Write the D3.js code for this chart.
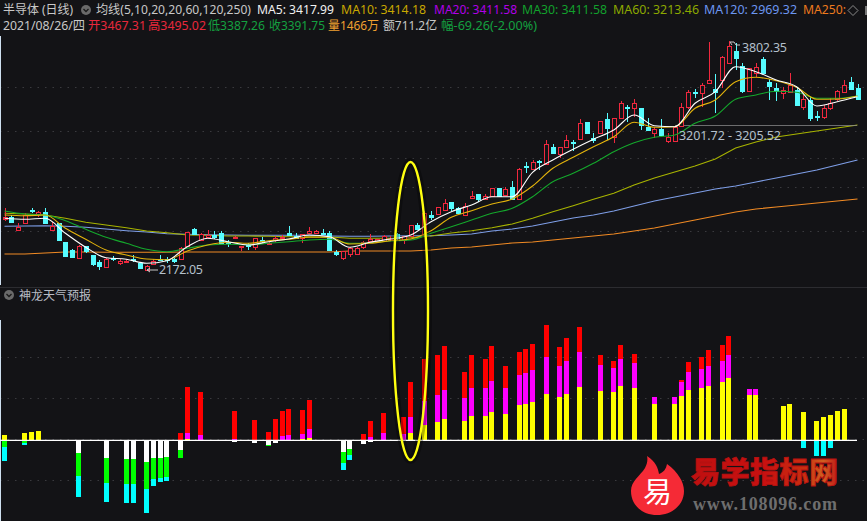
<!DOCTYPE html>
<html><head><meta charset="utf-8">
<script src="https://cdn.jsdelivr.net/npm/d3@7/dist/d3.min.js"></script>
<style>html,body{margin:0;padding:0;background:#131316;overflow:hidden}svg{display:block}
text{font-family:"Noto Sans","Noto Sans CJK SC",sans-serif}</style></head><body>
<svg id="c" width="867" height="521"></svg>
<script>
// Candles, index points
const opens=[2561,2579,2484,2533,2626,2598,2610,2484,2533,2404,2346,2290,2374,2311,2260,2229,2288,2253,2260,2283,2255,2204,2248,2285,2281,2283,2281,2376,2493,2416,2435,2451,2463,2404,2430,2367,2383,2365,2416,2386,2418,2428,2465,2446,2428,2463,2465,2465,2465,2334,2290,2320,2320,2369,2409,2411,2407,2421,2458,2416,2446,2521,2451,2591,2600,2626,2680,2640,2591,2712,2736,2701,2724,2778,2731,2787,2701,2932,2915,2969,2946,3067,3018,3069,3104,3121,3240,3128,3163,3263,3135,3272,3349,3338,3338,3205,3163,3191,3109,3111,3216,3345,3454,3443,3513,3473,3536,3657,3739,3636,3461,3583,3683,3522,3480,3443,3450,3466,3345,3396,3284,3279,3342,3401,3454,3524,3478];
const highs=[2638,2591,2533,2603,2640,2619,2638,2544,2533,2404,2355,2381,2374,2311,2276,2290,2302,2281,2281,2313,2264,2239,2281,2311,2299,2288,2365,2470,2502,2467,2486,2481,2481,2416,2442,2374,2397,2428,2435,2404,2442,2451,2514,2463,2456,2507,2484,2493,2477,2346,2339,2365,2369,2409,2458,2421,2451,2446,2463,2446,2519,2533,2621,2619,2645,2705,2680,2649,2677,2759,2736,2736,2778,2778,2785,2829,2922,2964,2976,2976,3116,3088,3065,3149,3116,3263,3240,3163,3247,3303,3268,3389,3361,3400,3338,3268,3209,3263,3163,3216,3373,3466,3471,3513,3802,3576,3706,3809,3793,3657,3618,3657,3699,3545,3513,3489,3587,3478,3431,3419,3321,3361,3412,3466,3536,3555,3508];
const lows=[2551,2544,2484,2533,2603,2579,2533,2484,2416,2299,2299,2281,2323,2236,2206,2225,2269,2243,2253,2262,2222,2197,2241,2269,2257,2257,2276,2374,2458,2416,2428,2425,2397,2369,2421,2339,2346,2346,2393,2381,2404,2416,2449,2421,2397,2463,2463,2451,2346,2304,2276,2299,2320,2351,2404,2404,2407,2416,2416,2388,2446,2491,2451,2556,2591,2621,2621,2598,2591,2705,2684,2696,2724,2717,2724,2696,2701,2887,2906,2906,2946,3016,2988,3065,3041,3121,3163,3093,3156,3116,3097,3272,3240,3279,3186,3181,3128,3149,3093,3104,3209,3331,3408,3345,3513,3307,3478,3657,3606,3443,3461,3559,3583,3396,3391,3401,3450,3361,3326,3251,3251,3261,3326,3387,3443,3471,3405];
const closes=[2575,2544,2505,2591,2621,2614,2533,2516,2416,2304,2299,2374,2341,2248,2234,2283,2283,2267,2271,2278,2222,2232,2271,2274,2274,2271,2358,2470,2458,2458,2451,2435,2397,2400,2437,2374,2379,2428,2407,2397,2432,2439,2449,2428,2456,2477,2479,2458,2346,2320,2339,2360,2360,2404,2421,2421,2446,2425,2432,2444,2519,2493,2603,2577,2645,2673,2638,2607,2654,2724,2703,2726,2778,2726,2771,2703,2913,2927,2962,2960,3086,3023,3065,3114,3093,3233,3163,3116,3247,3202,3268,3375,3338,3373,3221,3186,3193,3149,3139,3209,3345,3452,3443,3499,3536,3450,3695,3774,3692,3459,3618,3625,3583,3494,3457,3466,3501,3361,3403,3268,3279,3340,3373,3457,3501,3471,3405];
// Moving averages, sampled every third session
const maSessions=[0,3,6,9,12,15,18,21,24,27,30,33,36,39,42,45,48,51,54,57,60,63,66,69,72,75,78,81,84,87,90,93,96,99,102,105,108,111,114,117,120,123,126];
const ma250=[2318,2318,2325,2332,2332,2330,2330,2330,2330,2332,2332,2332,2332,2332,2332,2332,2332,2339,2339,2339,2339,2346,2360,2367,2381,2395,2402,2416,2430,2444,2458,2479,2500,2528,2556,2584,2612,2633,2647,2661,2675,2689,2703];
const ma120=[2512,2514,2516,2512,2505,2493,2481,2472,2460,2456,2453,2451,2449,2449,2449,2449,2444,2442,2442,2444,2446,2446,2451,2458,2479,2493,2514,2542,2570,2591,2619,2654,2689,2717,2745,2773,2794,2822,2850,2878,2906,2941,2976];
const ma60=[2603,2598,2591,2568,2540,2521,2502,2479,2467,2451,2449,2444,2444,2442,2439,2439,2437,2428,2428,2428,2432,2444,2465,2481,2502,2528,2568,2614,2656,2701,2743,2801,2850,2892,2934,2983,3060,3102,3137,3158,3179,3200,3221];
const ma30=[2619,2598,2591,2551,2491,2435,2393,2351,2334,2358,2381,2386,2383,2393,2404,2416,2421,2393,2397,2409,2416,2463,2509,2556,2603,2638,2719,2824,2883,2953,3034,3097,3135,3151,3233,3284,3401,3431,3457,3450,3408,3408,3424];
const ma10=[2591,2586,2591,2498,2421,2346,2311,2283,2278,2339,2381,2400,2393,2411,2421,2435,2435,2388,2393,2411,2423,2481,2575,2621,2668,2703,2794,2918,2995,3069,3139,3240,3205,3209,3338,3396,3524,3555,3531,3485,3401,3403,3424];
const ma5=[2568,2561,2568,2463,2365,2292,2281,2253,2271,2369,2428,2404,2381,2404,2423,2451,2439,2365,2400,2423,2451,2544,2614,2661,2719,2719,2890,2976,3051,3121,3186,3291,3216,3209,3373,3454,3629,3594,3536,3489,3354,3384,3419];
// Reference levels of the panes
const priceGrid=[3489,3181,2988,2789,2481];
const signalGrid=[82,41,0,-41];
// Indicator bars: session, then the six stacked parts
const barSessions=[0,3,4,5,11,15,18,19,21,22,23,24,26,27,29,34,37,39,40,41,42,44,45,50,51,53,54,56,59,60,62,64,65,68,69,71,72,74,76,77,78,80,82,83,85,88,90,91,93,96,99,100,101,103,104,106,107,110,111,115,116,118,120,121,122,123,124];
const yellowPart=[5,7,8,9,0,0,0,0,0,0,0,0,0,1,0,0,0,0,0,0,0,1,2,0,0,0,0,0,0,7,15,18,21,19,24,24,28,26,35,36,38,46,43,46,53,49,48,54,52,36,36,44,50,52,54,58,62,45,45,34,36,28,19,23,25,29,31];
const magentaPart=[0,0,0,0,0,0,0,0,0,0,0,0,0,6,5,1,0,0,0,4,5,5,9,0,0,0,3,7,6,16,24,27,29,23,28,28,31,26,30,31,32,37,31,33,35,26,24,27,25,7,7,14,18,19,20,21,23,6,6,0,0,0,0,0,0,0,0];
const redPart=[0,0,0,0,0,0,0,0,0,0,0,0,7,46,43,28,20,8,21,25,26,24,29,0,0,6,16,20,17,35,42,40,44,26,33,29,35,22,23,24,26,32,19,23,25,10,7,14,9,0,0,2,10,12,16,16,19,0,0,0,0,0,0,0,0,0,0];
const whitePart=[0,0,0,0,13,18,19,19,22,18,18,17,10,0,0,2,3,5,3,0,0,0,0,12,9,4,2,0,0,0,0,0,0,0,0,0,0,0,0,0,0,0,0,0,0,0,0,0,0,0,0,0,0,0,0,0,0,0,0,0,0,0,0,0,0,0,0];
const greenPart=[7,3,0,0,23,25,25,25,27,21,20,20,8,0,0,0,0,1,0,0,0,0,0,11,6,0,0,0,0,0,0,0,0,0,0,0,0,0,0,0,0,0,0,0,0,0,0,0,0,0,0,0,0,0,0,0,0,0,0,0,0,0,0,0,0,0,0];
const cyanPart=[14,2,0,0,21,19,19,19,24,7,4,4,0,0,0,0,0,0,0,0,0,0,0,7,5,0,0,0,0,0,0,0,0,0,0,0,0,0,0,0,0,0,0,0,0,0,0,0,0,0,0,0,0,0,0,0,0,0,0,0,0,8,16,16,8,0,0];
// Texts
const headerRow1=[["半导体 (日线)",3,70,"#c8c8c8"],["均线(5,10,20,20,60,120,250)",96,155,"#c8c8c8"],["MA5: 3417.99",257,77,"#f0f0f0"],["MA10: 3414.18",341,85,"#c8a800"],["MA20: 3411.58",434,83,"#b000e8"],["MA30: 3411.58",522,85,"#12a02c"],["MA60: 3213.46",613,86,"#8ca800"],["MA120: 2969.32",704,93,"#6c96f0"],["MA250:",803,43,"#ee7a1e"]];
const headerRow2=[["2021/08/26/四",3,82,"#c8c8c8"],["开3467.31",88,58,"#e8283c"],["高3495.02",148,58,"#e8283c"],["低3387.26",208,57,"#14a040"],["收3391.75",269,56,"#14a040"],["量1466万",328,51,"#f0a030"],["额711.2亿",383,54,"#c8c8c8"],["幅-69.26(-2.00%)",441,96,"#14a040"]];

const svg=d3.select("#c");
const W=867,BG="#131316";
const x=d3.scaleLinear().domain([0,126]).range([4.5,857.5]);
const y=d3.scaleLinear().domain([2136,4096]).range([280,0]);
const v=d3.scaleLinear().domain([-80,120]).range([520.3,320.3]);
svg.append("rect").attr("width",W).attr("height",521).attr("fill",BG);
// grid
const dots=(g,ys)=>g.selectAll("line").data(ys).join("line").attr("x1",0).attr("x2",W).attr("y1",d=>d).attr("y2",d=>d).attr("stroke","#3a3a3e").attr("stroke-width",1).attr("stroke-dasharray","1.5 6");
dots(svg.append("g"),priceGrid.map(d=>Math.round(y(d))+.5));
dots(svg.append("g"),signalGrid.map(d=>Math.round(v(d))-.5));
svg.append("line").attr("x1",0).attr("x2",W).attr("y1",287.5).attr("y2",287.5).attr("stroke","#2c2c30");
[[36,285],[320,521]].forEach(([a,b])=>svg.append("line").attr("x1",.5).attr("x2",.5).attr("y1",a).attr("y2",b).attr("stroke","#cfe0f0").attr("stroke-width",1));
// MA under/over candles
const mline=d3.line().x((d,i)=>x(maSessions[i])).y(d=>y(d));
const smooth=d3.line().x((d,i)=>x(maSessions[i])).y(d=>y(d)).curve(d3.curveMonotoneX);
[[ma250,"#f08a24",1.1],[ma120,"#7f9fe8",1.1],[ma60,"#a8b400",1.1]].forEach(([s,c,w])=>svg.append("path").attr("d",mline(s)).attr("fill","none").attr("stroke",c).attr("stroke-width",w));
svg.append("line").attr("x1",675).attr("x2",857).attr("y1",125.5).attr("y2",125.5).attr("stroke","#8c8c8c").attr("stroke-opacity",.75);
// candles
const UP="#f0283e",DN="#56fcff";
const cg=svg.append("g").attr("shape-rendering","crispEdges");
opens.forEach((o,i)=>{
  const c=closes[i],up=c>=o,col=up?UP:DN,cx=Math.round(x(i))+.5;
  const top=Math.round(y(Math.max(o,c)))+.5,bot=Math.round(y(Math.min(o,c)))+.5;
  const g=cg.append("g");
  g.append("line").attr("x1",cx).attr("x2",cx).attr("y1",y(highs[i])).attr("y2",y(lows[i])).attr("stroke",col).attr("stroke-width",1);
  g.append("rect").attr("x",cx-2).attr("width",4).attr("y",top).attr("height",Math.max(bot-top,1))
    .attr("fill",up?BG:col).attr("stroke",col).attr("stroke-width",1);
});
[[ma30,"#14a82c",1.1],[ma10,"#e4b40c",1.1],[ma5,"#ffffff",1.1]].forEach(([s,c,w])=>svg.append("path").attr("d",smooth(s)).attr("fill","none").attr("stroke",c).attr("stroke-width",w));
// bars
const bar=d3.scaleLinear().domain([0,124]).range([2,841.5]);
const bg=svg.append("g").attr("shape-rendering","crispEdges");
const drawStack=(parts,dir)=>barSessions.forEach((s,i)=>{
  let acc=0;
  parts.forEach(([arr,col])=>{
    const h=arr[i]; if(!h) return;
    const a=v(dir*acc),b=v(dir*(acc+h));
    bg.append("rect").attr("x",Math.round(bar(s))).attr("width",5).attr("y",Math.min(a,b)).attr("height",Math.abs(a-b)).attr("fill",col);
    acc+=h;
  });
});
drawStack([[yellowPart,"#ffff00"],[magentaPart,"#ff00ff"],[redPart,"#ff0000"]],1);
drawStack([[whitePart,"#ffffff"],[greenPart,"#00ff00"],[cyanPart,"#00ffff"]],-1);
svg.append("line").attr("x1",0).attr("x2",857).attr("y1",v(0)).attr("y2",v(0)).attr("stroke","#fff").attr("stroke-width",1.2);
// ellipse
svg.append("ellipse").attr("cx",410.5).attr("cy",311).attr("rx",17.5).attr("ry",149).attr("fill","none").attr("stroke","#000").attr("stroke-opacity",.3).attr("stroke-width",8);
svg.append("ellipse").attr("cx",410.5).attr("cy",311).attr("rx",17.5).attr("ry",149).attr("fill","none").attr("stroke","#ffff10").attr("stroke-width",2.4);
// headers
const row=(a,yy)=>a.forEach(([t,xx,len,c])=>svg.append("text").attr("x",xx).attr("y",yy).attr("font-size",12.5).attr("fill",c).attr("textLength",len).attr("lengthAdjust","spacingAndGlyphs").text(t));
row(headerRow1,14);row(headerRow2,30);
svg.append("circle").attr("cx",86).attr("cy",10).attr("r",5).attr("fill","#6a6a6a");
svg.append("path").attr("d","M83.5 9l2.5 2.5 2.5-2.5").attr("stroke","#1a1a1a").attr("stroke-width",1.3).attr("fill","none");
svg.append("path").attr("d","M853 5.5l5 5-5 5-5-5z").attr("fill","none").attr("stroke","#8a8a8a");
svg.append("rect").attr("x",865).attr("y",6).attr("width",2).attr("height",9).attr("fill","#777");
svg.append("circle").attr("cx",9).attr("cy",295).attr("r",5).attr("fill","#6a6a6a");
svg.append("path").attr("d","M6.5 294l2.5 2.5 2.5-2.5").attr("stroke","#1a1a1a").attr("stroke-width",1.3).attr("fill","none");
svg.append("text").attr("x",19).attr("y",299.5).attr("font-size",12).attr("fill","#b8bcc4").attr("textLength",72).text("神龙天气预报");
// price notes
const note=(t,xx,yy,len)=>svg.append("text").attr("x",xx).attr("y",yy).attr("font-size",12.5).attr("fill","#b4c0cc").attr("textLength",len).text(t);
note("2172.05",159,274,44);
svg.append("path").attr("d","M147 270H158M147 270l3-2M147 270l3 2").attr("stroke","#c8c8c8").attr("fill","none");
note("3201.72 - 3205.52",679,140,102);
note("3802.35",742,52,45);
svg.append("path").attr("d","M730 42h4l2 3h4M730 42l2 3").attr("stroke","#c8c8c8").attr("fill","none");
// watermark
const wm=svg.append("g");
wm.append("path").attr("d","M647 456C656 462 658 468 659 474C664 472 666 469 667 464C678 472 684 482 684 491C684 505 672 515 657 515C642 515 631 505 631 491C631 481 640 476 645 468C647 464 648 460 647 456Z").attr("fill","#f52a36");
wm.append("text").attr("x",657.5).attr("y",503).attr("text-anchor","middle").attr("font-size",29).attr("fill","#fff").style("font-family","'Noto Sans CJK SC'").text("易");
const grad=svg.append("defs").append("linearGradient").attr("id","wmg").attr("x1",0).attr("x2",1);
[[0,"#c01010"],[.5,"#c81010"],[.78,"#c83010"],[.9,"#d06020"],[1,"#c01818"]].forEach(([o,c])=>grad.append("stop").attr("offset",o).attr("stop-color",c));
wm.append("text").attr("x",691).attr("y",483).attr("font-size",29).attr("font-weight",900).attr("fill","url(#wmg)").attr("textLength",147).attr("stroke","#b81010").attr("stroke-width",.8).style("font-family","'Noto Sans CJK SC'").text("易学指标网");
wm.append("text").attr("x",693).attr("y",510).attr("font-size",18).attr("font-weight",700).attr("fill","#6e6e6e").attr("textLength",144).style("font-family","'Liberation Serif'").text("www.108096.com");
</script></body></html>
